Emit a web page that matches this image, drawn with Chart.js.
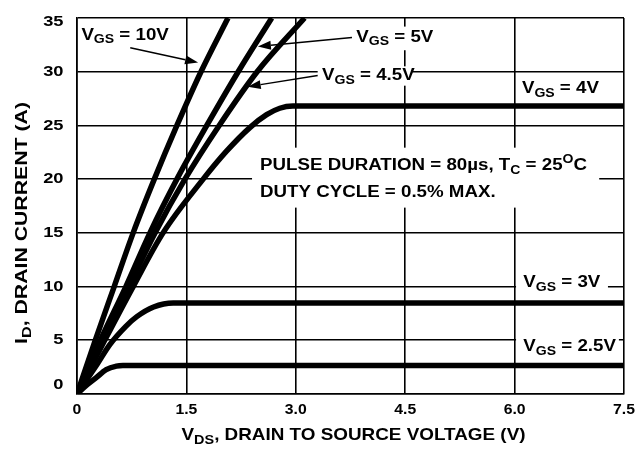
<!DOCTYPE html>
<html>
<head>
<meta charset="utf-8">
<script src="https://cdn.jsdelivr.net/npm/chart.js@4.4.1/dist/chart.umd.min.js"></script>
<style>
    html, body { margin: 0; padding: 0; background: #fff; }
</style>
</head>
<body>
<canvas id="outputChart" width="638" height="449"></canvas>
<script>
// Curve data (VDS in V, ID in A)
const vds10 = [0, 0.25, 0.51, 0.77, 1.06, 1.37, 1.70, 2.07];
const id10 = [0, 5, 10, 15, 20, 25, 30, 35];
const vds5 = [0, 0.32, 0.67, 1.0, 1.37, 1.78, 2.21, 2.67];
const id5 = [0, 5, 10, 15, 20, 25, 30, 35];
const vds45 = [0, 0.35, 0.71, 1.07, 1.48, 1.95, 2.47, 3.12];
const id45 = [0, 5, 10, 15, 20, 25, 30, 35];
const vds4 = [0, 0.38, 0.77, 1.18, 1.73, 2.05, 2.37, 2.6, 2.78, 2.96, 7.5];
const id4 = [0, 5, 10, 15, 20, 22.6, 24.8, 26.0, 26.6, 26.8, 26.8];
const vds3 = [0, 0.26, 0.45, 0.67, 0.82, 1.05, 1.32, 7.5];
const id3 = [0, 2.6, 4.6, 6.3, 7.2, 8.1, 8.47, 8.47];
const vds25 = [0, 0.12, 0.26, 0.40, 0.54, 0.63, 7.5];
const id25 = [0, 0.75, 1.5, 2.27, 2.6, 2.65, 2.65];

const xTicks = [0, 1.5, 3.0, 4.5, 6.0, 7.5];
const yTicks = [0, 5, 10, 15, 20, 25, 30, 35];

const FONT = '"Liberation Sans", Arial, Helvetica, sans-serif';

function toPoints(xs, ys) {
    return xs.map((x, i) => ({ x: x, y: ys[i] }));
}

function curve(label, xs, ys) {
    return {
        label: label,
        data: toPoints(xs, ys),
        borderColor: '#000',
        borderWidth: 5.5,
        pointRadius: 0,
        fill: false,
        cubicInterpolationMode: 'monotone',
        borderCapStyle: 'butt',
        borderJoinStyle: 'round'
    };
}

// text pieces: [text, mode] where mode is n / sub / sup
// sx stretches the text sideways, the scan's lettering is wide
function richText(ctx, segs, x, y, size, sx, draw) {
    let cx = 0;
    ctx.save();
    ctx.translate(x, y);
    ctx.scale(sx, 1);
    segs.forEach(([t, m]) => {
        const fs = m === 'n' ? size : Math.round(size * 0.75);
        ctx.font = 'bold ' + fs + 'px ' + FONT;
        const dy = m === 'sub' ? size * 0.3 : (m === 'sup' ? -size * 0.35 : 0);
        if (draw !== false) ctx.fillText(t, cx, dy);
        cx += ctx.measureText(t).width;
    });
    ctx.restore();
    return cx * sx;
}

function vgs(val) {
    return [['V', 'n'], ['GS', 'sub'], [' = ' + val, 'n']];
}

function arrow(ctx, x1, y1, x2, y2) {
    ctx.strokeStyle = '#000';
    ctx.fillStyle = '#000';
    ctx.lineWidth = 1.5;
    const a = Math.atan2(y2 - y1, x2 - x1);
    const len = 13, w = 4.5;
    const bx = x2 - len * Math.cos(a), by = y2 - len * Math.sin(a);
    ctx.beginPath();
    ctx.moveTo(x1, y1);
    ctx.lineTo(bx, by);
    ctx.stroke();
    ctx.beginPath();
    ctx.moveTo(x2, y2);
    ctx.lineTo(bx + w * Math.sin(a), by - w * Math.cos(a));
    ctx.lineTo(bx - w * Math.sin(a), by + w * Math.cos(a));
    ctx.closePath();
    ctx.fill();
}

// white patches behind the labels (data coords: x0, x1, y0, y1)
const patches = [
    [3.77, 4.95, 32.0, 34.2],
    [3.30, 4.6, 28.7, 30.5],
    [2.40, 7.16, 17.35, 22.93],
    [6.02, 7.28, 9.53, 11.1],
    [6.02, 7.43, 3.57, 5.24]
];

const SX = 1.17;

const notes = {
    id: 'notes',
    beforeDatasetsDraw(chart) {
        const { ctx, scales: { x, y } } = chart;
        ctx.save();
        ctx.fillStyle = '#fff';
        patches.forEach(p => {
            const l = x.getPixelForValue(p[0]), r = x.getPixelForValue(p[1]);
            const t = y.getPixelForValue(p[3]), b = y.getPixelForValue(p[2]);
            ctx.fillRect(l, t, r - l, b - t);
        });
        ctx.restore();
    },
    afterDatasetsDraw(chart) {
        const { ctx, scales: { x, y } } = chart;
        const px = v => x.getPixelForValue(v);
        const py = v => y.getPixelForValue(v);
        ctx.save();
        ctx.fillStyle = '#000';
        ctx.textBaseline = 'middle';
        ctx.textAlign = 'left';

        richText(ctx, vgs('10V'), px(0.06), py(33.4), 16, SX);
        arrow(ctx, px(0.73), py(32.24), px(1.66), py(30.85));

        richText(ctx, vgs('5V'), px(3.83), py(33.2), 16, SX);
        arrow(ctx, px(3.77), py(33.18), px(2.48), py(32.35));

        richText(ctx, vgs('4.5V'), px(3.36), py(29.6), 16, SX);
        arrow(ctx, px(3.30), py(29.64), px(2.34), py(28.61));

        richText(ctx, vgs('4V'), px(6.1), py(28.4), 16, SX);

        richText(ctx, [['PULSE DURATION = 80\u00b5s, T', 'n'], ['C', 'sub'], [' = 25', 'n'], ['O', 'sup'], ['C', 'n']],
            px(2.51), py(21.26), 16, SX);
        richText(ctx, [['DUTY CYCLE = 0.5% MAX.', 'n']], px(2.51), py(18.74), 16, SX);

        richText(ctx, vgs('3V'), px(6.12), py(10.36), 16, SX);
        richText(ctx, vgs('2.5V'), px(6.12), py(4.4), 16, SX);
        ctx.restore();
    },
    afterDraw(chart) {
        const { ctx, chartArea, scales: { x, y } } = chart;
        ctx.save();
        ctx.fillStyle = '#000';
        ctx.textBaseline = 'middle';
        ctx.textAlign = 'left';

        // tick labels
        x.ticks.forEach(t => {
            const seg = [[t.value === 0 ? '0' : t.value.toFixed(1), 'n']];
            const w = richText(ctx, seg, 0, 0, 15, 1.05, false);
            richText(ctx, seg, x.getPixelForValue(t.value) - w / 2, 410, 15, 1.05);
        });
        y.ticks.forEach(t => {
            const seg = [[String(t.value), 'n']];
            const w = richText(ctx, seg, 0, 0, 15, 1.22, false);
            let cy = y.getPixelForValue(t.value);
            if (t.value === 35) cy += 4;
            if (t.value === 0) cy -= 9;
            richText(ctx, seg, 63.5 - w, cy, 15, 1.22);
        });

        // x axis title
        const xt = [['V', 'n'], ['DS', 'sub'], [', DRAIN TO SOURCE VOLTAGE (V)', 'n']];
        const wx = richText(ctx, xt, 0, 0, 17, 1.11, false);
        richText(ctx, xt, (chartArea.left + chartArea.right) / 2 - wx / 2 + 3, 435, 17, 1.11);

        // y axis title
        const yt = [['I', 'n'], ['D', 'sub'], [', DRAIN CURRENT (A)', 'n']];
        const wy = richText(ctx, yt, 0, 0, 17, 1.25, false);
        ctx.translate(22, 223);
        ctx.rotate(-Math.PI / 2);
        richText(ctx, yt, -wy / 2, 0, 17, 1.25);
        ctx.restore();
    }
};

new Chart(document.getElementById('outputChart'), {
    type: 'line',
    data: {
        datasets: [
            curve('VGS = 10V', vds10, id10),
            curve('VGS = 5V', vds5, id5),
            curve('VGS = 4.5V', vds45, id45),
            curve('VGS = 4V', vds4, id4),
            curve('VGS = 3V', vds3, id3),
            curve('VGS = 2.5V', vds25, id25)
        ]
    },
    options: {
        responsive: false,
        animation: false,
        layout: { padding: { top: 18, right: 14, left: 0, bottom: 0 } },
        plugins: {
            legend: { display: false },
            tooltip: { enabled: false }
        },
        scales: {
            x: {
                type: 'linear',
                min: 0,
                max: 7.5,
                afterBuildTicks: s => { s.ticks = xTicks.map(v => ({ value: v })); },
                afterFit: s => { s.height = 55; },
                ticks: { display: false },
                grid: { color: '#000', lineWidth: 1.6, drawTicks: false },
                border: { color: '#000', width: 1.6 }
            },
            y: {
                min: 0,
                max: 35,
                afterBuildTicks: s => { s.ticks = yTicks.map(v => ({ value: v })); },
                afterFit: s => { s.width = 77; },
                ticks: { display: false },
                grid: { color: '#000', lineWidth: 1.6, drawTicks: false },
                border: { color: '#000', width: 1.6 }
            }
        }
    },
    plugins: [notes]
});
</script>
</body>
</html>
